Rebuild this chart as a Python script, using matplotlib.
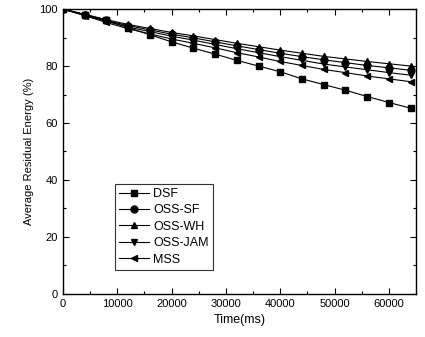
import matplotlib
matplotlib.use("Agg")
import matplotlib.pyplot as plt
from matplotlib.ticker import MultipleLocator

plt.rcParams['font.family'] = ['Liberation Sans', 'DejaVu Sans']

time_ms = [0, 4000, 8000, 12000, 16000, 20000, 24000, 28000, 32000,
           36000, 40000, 44000, 48000, 52000, 56000, 60000, 64000]
dsf = [100, 98.0, 96.0, 93.5, 91.0, 88.5, 86.3, 84.2, 82.0,
       80.0, 78.0, 75.5, 73.5, 71.5, 69.3, 67.2, 65.2]
oss_sf = [100, 98.1, 96.0, 94.2, 92.7, 91.2, 89.9, 88.5, 87.1,
          85.8, 84.5, 83.3, 82.2, 81.2, 80.2, 79.4, 78.5]
oss_wh = [100, 98.2, 96.3, 94.6, 93.2, 91.8, 90.6, 89.3, 88.0,
          86.8, 85.6, 84.5, 83.4, 82.5, 81.6, 80.8, 80.0]
oss_jam = [100, 97.9, 95.7, 93.7, 92.1, 90.5, 89.1, 87.6, 86.1,
           84.7, 83.3, 82.0, 80.7, 79.7, 78.7, 77.7, 76.8]
mss = [100, 97.7, 95.3, 93.1, 91.3, 89.5, 88.0, 86.4, 84.7,
       83.2, 81.6, 80.2, 78.8, 77.7, 76.5, 75.5, 74.5]

series = [("DSF", dsf, "s"), ("OSS-SF", oss_sf, "o"), ("OSS-WH", oss_wh, "^"),
          ("OSS-JAM", oss_jam, "v"), ("MSS", mss, "<")]

fig = plt.figure(figsize=(4.25, 3.37), dpi=100)
ax = fig.add_axes([0.148, 0.128, 0.831, 0.845])

for name, vals, mk in series:
    ax.plot(time_ms, vals, color="black", lw=0.8, marker=mk, ms=5,
            label=name)

ax.set_xlim(0, 65000)
ax.set_ylim(0, 100)
ax.xaxis.set_major_locator(MultipleLocator(10000))
ax.xaxis.set_minor_locator(MultipleLocator(5000))
ax.yaxis.set_major_locator(MultipleLocator(20))
ax.yaxis.set_minor_locator(MultipleLocator(10))
ax.tick_params(which="both", direction="in", top=True, right=True,
               labelsize=8, width=0.8)
ax.tick_params(which="major", length=4)
ax.tick_params(which="minor", length=2)
for s in ax.spines.values():
    s.set_linewidth(1.0)

ax.set_xlabel("Time(ms)", fontsize=9)
ax.set_ylabel("Average Residual Energy (%)", fontsize=8)

leg = ax.legend(loc="lower left", bbox_to_anchor=(0.147, 0.084), fontsize=9,
                frameon=True, fancybox=False, edgecolor="black",
                borderaxespad=0, handlelength=2.4, handletextpad=0.3,
                labelspacing=0.35, borderpad=0.35, markerscale=1.0)
leg.get_frame().set_linewidth(0.8)

fig.savefig("out.png", dpi=100)
